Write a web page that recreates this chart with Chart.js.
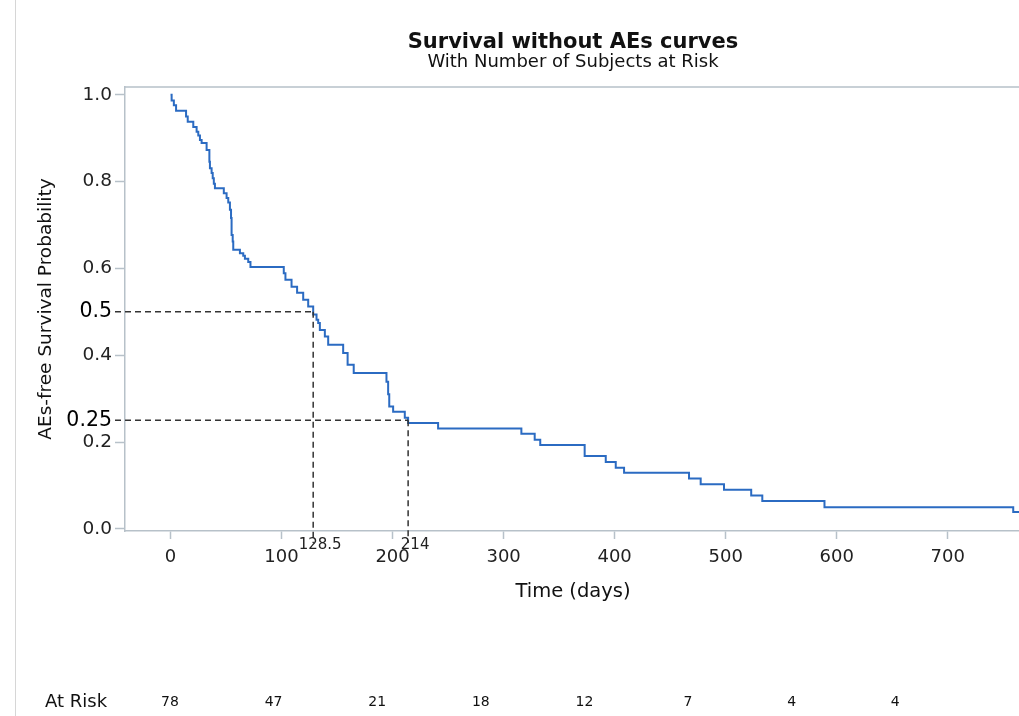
<!DOCTYPE html>
<html lang="en">
<head>
  <meta charset="UTF-8">
  <title>Survival without AEs curves</title>
  <script src="https://cdn.jsdelivr.net/npm/chart.js"></script>
  <style>
    * { margin: 0; padding: 0; box-sizing: border-box; }
    body { background: #fff; width: 1019px; height: 716px; overflow: hidden; }
    .wrap { position: relative; width: 1024px; height: 716px; }
  </style>
</head>
<body>
  <div class="wrap"><canvas id="km"></canvas></div>

  <script>
    // Kaplan-Meier estimate: event time (days) and survival after the step
    const days = [0, 1, 3, 5, 14, 15.5, 20.5, 23.5, 25, 26.5, 28, 32.5, 35, 35.5, 37, 38, 39, 40,
      48, 50.5, 52, 53.5, 54.5, 55, 56, 56.5, 62.5, 65.5, 67, 70, 72,
      102, 103.5, 109, 114, 119.5, 124, 128.5, 131.5, 133, 134.5, 139, 142, 155.5, 159.5, 165,
      194.5, 196, 197, 200.5, 211, 214, 241, 316, 328, 333, 373, 392, 401, 408.5,
      467, 477.5, 498.5, 523, 533, 589, 759, 770];
    const survival = [1.0, 0.987, 0.976, 0.963, 0.950, 0.938, 0.926, 0.915, 0.906, 0.896, 0.889, 0.873, 0.846, 0.831, 0.820, 0.808, 0.795, 0.785,
      0.773, 0.762, 0.752, 0.735, 0.716, 0.677, 0.662, 0.643, 0.635, 0.629, 0.622, 0.615, 0.603,
      0.589, 0.574, 0.558, 0.544, 0.528, 0.512, 0.494, 0.482, 0.474, 0.458, 0.443, 0.424, 0.405, 0.378, 0.359,
      0.339, 0.310, 0.282, 0.270, 0.256, 0.244, 0.231, 0.219, 0.205, 0.193, 0.168, 0.154, 0.141, 0.129,
      0.116, 0.103, 0.090, 0.077, 0.064, 0.050, 0.039, 0.039];

    const xTicks = [0, 100, 200, 300, 400, 500, 600, 700];
    const yTicks = [0, 0.2, 0.25, 0.4, 0.5, 0.6, 0.8, 1.0];

    // median and first quartile reference lines
    const refLevels = [0.5, 0.25];
    const refDays = [128.5, 214];

    const atRisk = [78, 47, 21, 18, 12, 7, 4, 4];

    const FONT = "'DejaVu Sans', sans-serif";
    const AXIS_GREY = '#b7c1c9';
    Chart.defaults.font.family = FONT;
    Chart.defaults.color = '#222';

    const isRef = c => !!(c && c.tick && refLevels.includes(c.tick.value));

    const kmExtras = {
      id: 'kmExtras',
      afterDatasetsDraw(chart) {
        const { ctx, chartArea: a, scales: { x, y } } = chart;
        ctx.save();
        ctx.strokeStyle = '#333';
        ctx.lineWidth = 1.5;
        ctx.setLineDash([6, 4]);
        refLevels.forEach((lvl, i) => {
          const px = x.getPixelForValue(refDays[i]);
          const py = y.getPixelForValue(lvl);
          ctx.beginPath();
          ctx.moveTo(a.left - 10, py);
          ctx.lineTo(px, py);
          ctx.stroke();
          ctx.beginPath();
          ctx.moveTo(px, py);
          ctx.lineTo(px, a.bottom + 12);
          ctx.stroke();
        });
        ctx.setLineDash([]);

        // reference day labels under the axis
        ctx.fillStyle = '#222';
        ctx.font = '15px ' + FONT;
        ctx.textAlign = 'center';
        ctx.textBaseline = 'middle';
        refDays.forEach(d => {
          ctx.fillText(String(d), x.getPixelForValue(d) + 7, a.bottom + 14);
        });
        ctx.restore();
      },
      afterDraw(chart) {
        const { ctx, chartArea: a } = chart;
        ctx.save();

        // frame top
        ctx.strokeStyle = AXIS_GREY;
        ctx.lineWidth = 1.5;
        ctx.beginPath();
        ctx.moveTo(a.left, a.top);
        ctx.lineTo(a.right, a.top);
        ctx.lineTo(a.right, a.bottom);
        ctx.stroke();

        // thin page rule at the left
        ctx.strokeStyle = '#d6d6d6';
        ctx.lineWidth = 1;
        ctx.beginPath();
        ctx.moveTo(15.5, 0);
        ctx.lineTo(15.5, chart.height);
        ctx.stroke();

        // titles
        const cx = (a.left + a.right) / 2;
        ctx.fillStyle = '#111';
        ctx.textAlign = 'center';
        ctx.textBaseline = 'alphabetic';
        ctx.font = 'bold 21px ' + FONT;
        ctx.fillText('Survival without AEs curves', cx, 48);
        ctx.font = '18px ' + FONT;
        ctx.fillText('With Number of Subjects at Risk', cx, 67);

        // number at risk row
        ctx.textAlign = 'left';
        ctx.font = '18px ' + FONT;
        ctx.fillText('At Risk', 45, 707);
        ctx.textAlign = 'center';
        ctx.font = '14px ' + FONT;
        atRisk.forEach((n, i) => {
          ctx.fillText(String(n), 170 + i * 103.6, 706);
        });
        ctx.restore();
      }
    };

    new Chart(document.getElementById('km'), {
      type: 'line',
      data: {
        datasets: [{
          label: 'Survival without AEs',
          data: days.map((d, i) => ({ x: d, y: survival[i] })),
          stepped: 'before',
          borderColor: '#2b6bc2',
          borderWidth: 2,
          pointRadius: 0,
          fill: false
        }]
      },
      options: {
        responsive: true,
        maintainAspectRatio: false,
        animation: false,
        layout: { padding: { top: 87, right: 3, bottom: 110, left: 0 } },
        plugins: {
          legend: { display: false },
          tooltip: { enabled: false },
          title: { display: false }
        },
        scales: {
          x: {
            type: 'linear',
            min: -41,
            max: 766,
            afterBuildTicks: s => { s.ticks = xTicks.map(v => ({ value: v })); },
            afterFit: s => { s.height = 75; },
            ticks: { autoSkip: false, maxRotation: 0, padding: 8, font: { size: 18 }, color: '#222' },
            grid: { drawOnChartArea: false, tickLength: 8, tickColor: AXIS_GREY, tickWidth: 1.5 },
            border: { color: AXIS_GREY, width: 1.5 },
            title: { display: true, text: 'Time (days)', font: { size: 19.5 }, color: '#111', padding: { top: 0, bottom: 2 } }
          },
          y: {
            type: 'linear',
            min: -0.005,
            max: 1.018,
            afterBuildTicks: s => { s.ticks = yTicks.map(v => ({ value: v })); },
            afterFit: s => { s.width = 125; },
            ticks: {
              autoSkip: false,
              padding: 3,
              callback: v => (v === 0.25 ? '0.25' : v.toFixed(1)),
              font: c => ({ size: isRef(c) ? 20.5 : 18.5 }),
              color: c => (isRef(c) ? '#000' : '#222')
            },
            grid: {
              drawOnChartArea: false,
              tickLength: 10,
              tickWidth: 1.5,
              tickColor: c => (isRef(c) ? 'rgba(0,0,0,0)' : AXIS_GREY)
            },
            border: { color: AXIS_GREY, width: 1.5 },
            title: { display: true, text: 'AEs-free Survival Probability', font: { size: 18.5 }, color: '#111', padding: { top: 35, bottom: 0 } }
          }
        }
      },
      plugins: [kmExtras]
    });
  </script>
</body>
</html>
